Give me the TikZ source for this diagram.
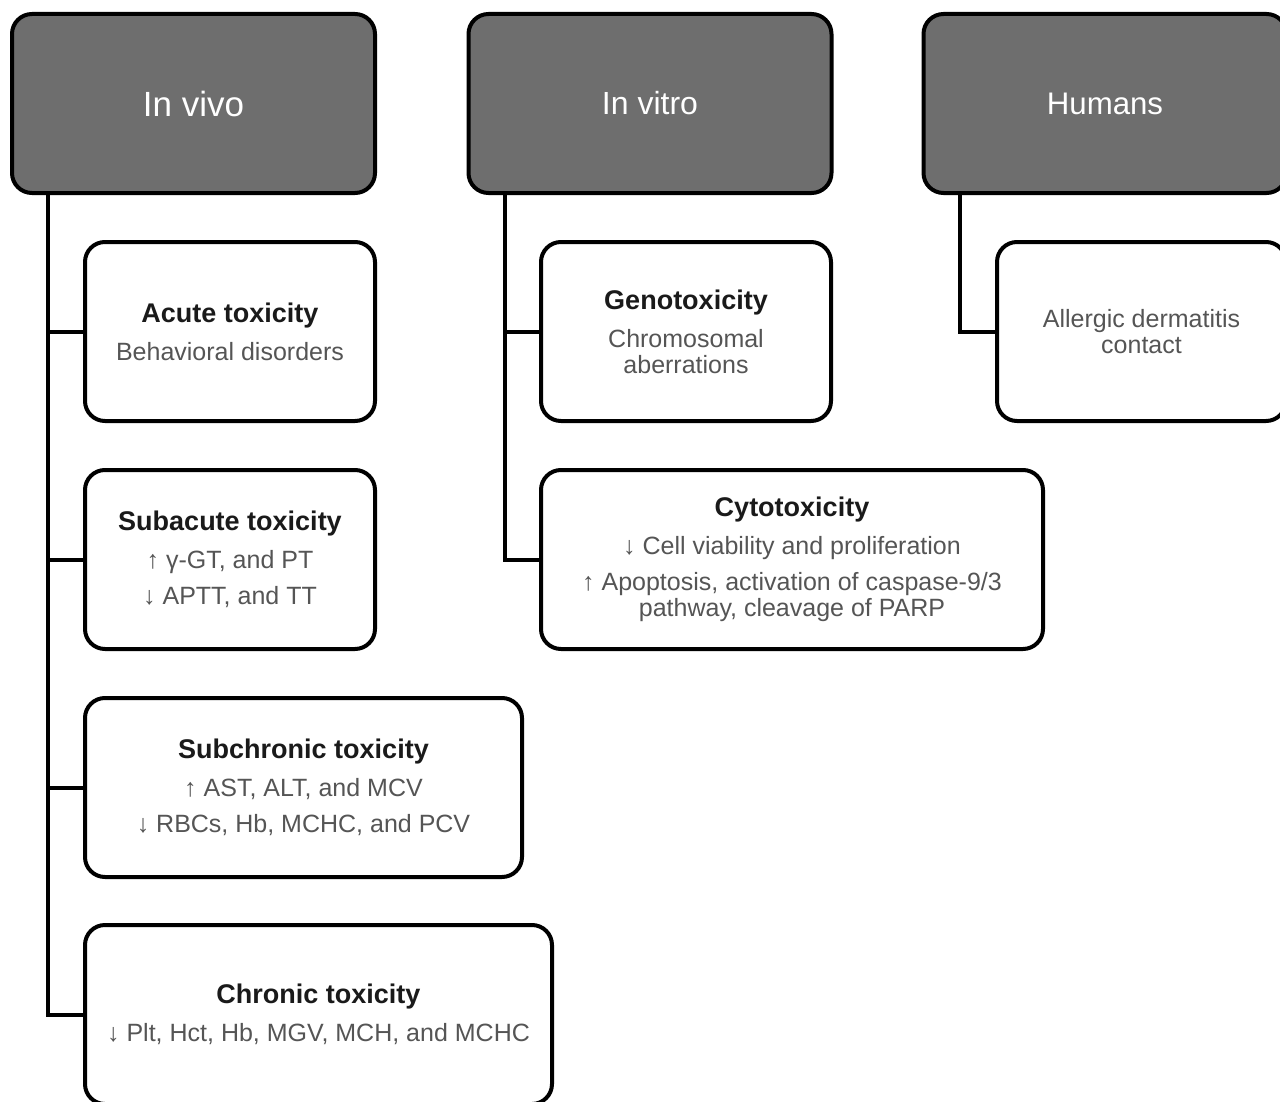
\documentclass[tikz,border=0pt]{standalone}
\usepackage{fontspec}
\setmainfont{Liberation Sans}
\definecolor{hdrgray}{HTML}{6E6E6E}
\definecolor{txtgray}{HTML}{555555}
\definecolor{ttlblack}{HTML}{1A1A1A}
\newcommand{\ttl}[1]{{\color{ttlblack}\bfseries\fontsize{13.5}{13}\selectfont #1}}
\tikzset{
  hdr/.style={draw=black, line width=2pt, rounded corners=10pt, fill=hdrgray,
    text=white, inner sep=0pt, outer sep=0pt,
    minimum width=181.5pt, minimum height=89.5pt},
  sub/.style={draw=black, line width=2pt, rounded corners=10pt, fill=white,
    text=txtgray, font=\fontsize{12.5}{13}\selectfont, align=center, inner sep=0pt,
    outer sep=0pt, minimum height=89.5pt},
  conn/.style={draw=black, line width=2pt, line join=miter}
}
\begin{document}
\begin{tikzpicture}[x=0.5pt,y=-0.5pt]
\useasboundingbox (0,0) rectangle (1280,1102);
% headers
\node[hdr, font=\fontsize{17.5}{20}\selectfont] (vivo) at (193.5,103.5) {In vivo};
\node[hdr, font=\fontsize{16}{20}\selectfont] (vitro) at (650,103.5) {In vitro};
\node[hdr, font=\fontsize{15.6}{20}\selectfont] (hum) at (1105,103.5) {Humans};
% in vivo children
\node[sub, minimum width=145pt] (acute) at (230,331.5)
  {\ttl{Acute toxicity}\\[6pt] Behavioral disorders};
\node[sub, minimum width=145pt] (subac) at (230,559.5)
  {\ttl{Subacute toxicity}\\[6pt] ↑ γ-GT, and PT\\[5pt] ↓ APTT, and TT};
\node[sub, minimum width=218.5pt] (subch) at (303.5,787.5)
  {\ttl{Subchronic toxicity}\\[6pt] ↑ AST, ALT, and MCV\\[5pt] ↓ RBCs, Hb, MCHC, and PCV};
\node[sub, minimum width=233.5pt] (chron) at (318.5,1014.5)
  {\ttl{Chronic toxicity}\\[6pt] ↓ Plt, Hct, Hb, MGV, MCH, and MCHC};
% in vitro children
\node[sub, minimum width=145pt] (geno) at (686,331.5)
  {\ttl{Genotoxicity}\\[6pt] Chromosomal\\ aberrations};
\node[sub, minimum width=251pt] (cyto) at (792,559.5)
  {\ttl{Cytotoxicity}\\[6pt] ↓ Cell viability and proliferation\\[5pt] ↑ Apoptosis, activation of caspase-9/3\\ pathway, cleavage of PARP};
% humans child
\node[sub, minimum width=144.5pt] (allerg) at (1141.5,331.5)
  {Allergic dermatitis\\ contact};
% connectors
\draw[conn] ([xshift=18pt]vivo.south west) |- (acute.west);
\draw[conn] ([xshift=18pt]vivo.south west) |- (subac.west);
\draw[conn] ([xshift=18pt]vivo.south west) |- (subch.west);
\draw[conn] ([xshift=18pt]vivo.south west) |- (chron.west);
\draw[conn] ([xshift=18pt]vitro.south west) |- (geno.west);
\draw[conn] ([xshift=18pt]vitro.south west) |- (cyto.west);
\draw[conn] ([xshift=18pt]hum.south west) |- (allerg.west);
\end{tikzpicture}
\end{document}
